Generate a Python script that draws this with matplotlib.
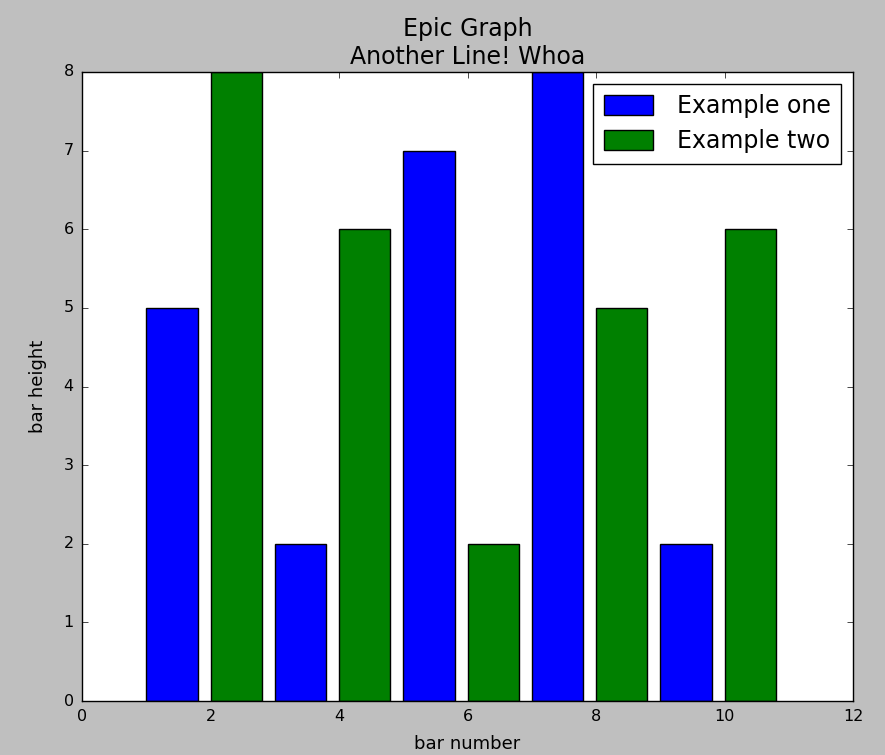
import matplotlib
matplotlib.use("Agg")
from matplotlib import pyplot as plt

plt.style.use("classic")

x_one = [1, 3, 5, 7, 9]
y_one = [5, 2, 7, 8, 2]
x_two = [2, 4, 6, 8, 10]
y_two = [8, 6, 2, 5, 6]

fig = plt.figure(figsize=(8.85, 7.55), dpi=100, facecolor="#bfbfbf")
ax = fig.add_axes([82/885, 54/755, (853-82)/885, (701-72)/755])

ax.bar(x_one, y_one, width=0.8, align="edge", color="b", edgecolor="k", label="Example one")
ax.bar(x_two, y_two, width=0.8, align="edge", color="g", edgecolor="k", label="Example two")

ax.set_xlim(0, 12)
ax.set_ylim(0, 8)
ax.tick_params(labelsize=11.5, pad=6)
ax.set_xlabel("bar number", fontsize=13, labelpad=8)
ax.set_ylabel("bar height", fontsize=13, labelpad=12)
ax.set_title("Epic Graph\nAnother Line! Whoa", fontsize=17, pad=6)
ax.legend(loc="upper right", fontsize=17, handlelength=2.1, handleheight=0.9,
          labelspacing=0.45, borderpad=0.45, handletextpad=1.0)

fig.savefig("out.png", dpi=100, facecolor=fig.get_facecolor())
